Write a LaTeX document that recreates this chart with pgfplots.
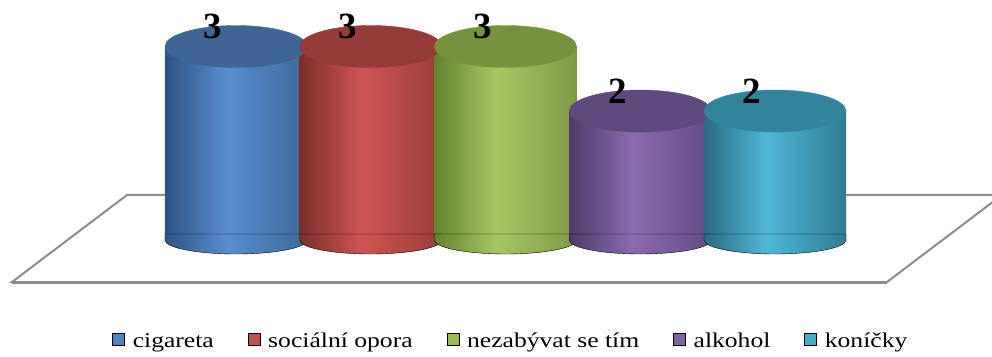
\documentclass[border=0pt]{standalone}
\usepackage{fontspec}
\setmainfont{Liberation Serif}
\usepackage{graphicx}
\usepackage{pgfplots}
\pgfplotsset{compat=1.18}

% One cylinder style: shaded side, shaded bottom rim, flat top cap
% #1 name, #2 left edge, #3 highlight, #4 right edge, #5 cap
\newcommand\defcyl[5]{%
  \definecolor{#1dark}{HTML}{#2}%
  \definecolor{#1light}{HTML}{#3}%
  \definecolor{#1right}{HTML}{#4}%
  \definecolor{#1top}{HTML}{#5}%
  \pgfdeclarehorizontalshading{#1shade}{100bp}{color(0bp)=(#1dark); color(25bp)=(#1dark); color(47bp)=(#1light); color(75bp)=(#1right); color(100bp)=(#1right)}%
  \pgfdeclareplotmark{#1base}{\shade[shading=#1shade] (-71pt,6pt) -- (-71pt,0pt) arc[start angle=180,end angle=360,x radius=71pt,y radius=14pt] -- (71pt,6pt) -- cycle;}%
  \pgfdeclareplotmark{#1cap}{\fill[#1top] (0pt,0pt) ellipse[x radius=71pt,y radius=21pt];}%
}
\defcyl{cblue}{2E5481}{5A8DD0}{3E6898}{3E6593}
\defcyl{cred}{7C2E2C}{CF5553}{9A3D3B}{953B39}
\defcyl{cgreen}{63832E}{A7C663}{7E9A45}{77923F}
\defcyl{cpurple}{4E396A}{8B6BAE}{654C84}{5F4A7D}
\defcyl{cteal}{296C81}{50B7D4}{2F7D93}{31849B}

\definecolor{legblue}{HTML}{4F81BD}
\definecolor{legred}{HTML}{C0504D}
\definecolor{leggreen}{HTML}{9BBB59}
\definecolor{legpurple}{HTML}{8064A2}
\definecolor{legteal}{HTML}{4BACC6}
\definecolor{floorline}{HTML}{8C8C8C}

\pgfplotsset{
  cylbody/.style={ybar, bar shift=0pt, bar width=1.054, draw=none, shade, shading=#1, forget plot},
  cylbase/.style={only marks, mark=#1, forget plot},
  cylcap/.style={only marks, mark=#1, forget plot, nodes near coords, point meta=y,
    every node near coord/.append style={font=\fontsize{37}{40}\selectfont\bfseries,
      inner sep=0pt, xshift=-23pt, yshift=7pt, text=black}},
}

\begin{document}
\begin{tikzpicture}
\useasboundingbox (0pt,0pt) rectangle (992pt,356pt);
\begin{axis}[
  at={(0pt,0pt)}, anchor=south west,
  width=992pt, height=356pt, scale only axis,
  hide axis,
  xmin=-1.7514, xmax=5.6104,
  ymin=-1.7984, ymax=3.7209,
  /pgf/number format/assume math mode=true,
  legend image code/.code={\fill[#1] (0pt,-4pt) rectangle (12pt,8pt);},
  legend style={at={(0.514,0.042)}, anchor=center, draw=none, fill=none,
    legend columns=5, font=\fontsize{21}{24}\selectfont,
    nodes={inner sep=0pt},
    /tikz/every odd column/.append style={column sep=8pt},
    /tikz/every even column/.append style={column sep=34pt}},
]
% floor of the plot area
\addplot[floorline, line width=2pt, fill=white, forget plot]
  coordinates {(-1.6623,-0.6512) (4.8312,-0.6512) (5.6846,0.6977) (-0.8089,0.6977)} -- cycle;
\addplot[floorline, line width=3pt, forget plot]
  coordinates {(-1.6623,-0.6512) (4.8312,-0.6512)};

% cigareta
\addplot[cylbase=cbluebase] coordinates {(0,0)};
\addplot[cylbody=cblueshade] coordinates {(0,3)};
\addplot[cylcap=cbluecap] coordinates {(0,3)};
% sociální opora
\addplot[cylbase=credbase] coordinates {(1,0)};
\addplot[cylbody=credshade] coordinates {(1,3)};
\addplot[cylcap=credcap] coordinates {(1,3)};
% nezabývat se tím
\addplot[cylbase=cgreenbase] coordinates {(2,0)};
\addplot[cylbody=cgreenshade] coordinates {(2,3)};
\addplot[cylcap=cgreencap] coordinates {(2,3)};
% alkohol
\addplot[cylbase=cpurplebase] coordinates {(3,0)};
\addplot[cylbody=cpurpleshade] coordinates {(3,2)};
\addplot[cylcap=cpurplecap] coordinates {(3,2)};
% koníčky
\addplot[cylbase=ctealbase] coordinates {(4,0)};
\addplot[cylbody=ctealshade] coordinates {(4,2)};
\addplot[cylcap=ctealcap] coordinates {(4,2)};

\addlegendimage{fill=legblue}
\addlegendentry{\scalebox{1.22}[1]{cigareta}}
\addlegendimage{fill=legred}
\addlegendentry{\scalebox{1.22}[1]{sociální opora}}
\addlegendimage{fill=leggreen}
\addlegendentry{\scalebox{1.22}[1]{nezabývat se tím}}
\addlegendimage{fill=legpurple}
\addlegendentry{\scalebox{1.22}[1]{alkohol}}
\addlegendimage{fill=legteal}
\addlegendentry{\scalebox{1.22}[1]{koníčky}}
\end{axis}
\end{tikzpicture}
\end{document}
